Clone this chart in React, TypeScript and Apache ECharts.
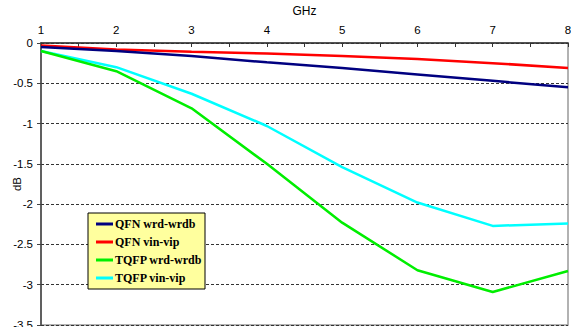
import React, { useEffect, useRef } from "react";
import * as echarts from "echarts";

const freqs = [1, 2, 3, 4, 5, 6, 7, 8];
const qfnWrd = [-0.05, -0.1, -0.16, -0.24, -0.31, -0.39, -0.47, -0.55];
const qfnVin = [-0.03, -0.08, -0.11, -0.13, -0.16, -0.2, -0.25, -0.31];
const tqfpWrd = [-0.1, -0.35, -0.81, -1.5, -2.23, -2.82, -3.09, -2.83];
const tqfpVin = [-0.1, -0.3, -0.63, -1.03, -1.54, -1.98, -2.27, -2.24];
const seriesNames = ["QFN wrd-wrdb", "QFN vin-vip", "TQFP wrd-wrdb", "TQFP vin-vip"];
const seriesColors = ["#000080", "#ff0000", "#00ee00", "#00ffff"];

export default function App() {
  const ref = useRef<HTMLDivElement>(null);
  useEffect(() => {
    if (!ref.current) return;
    const chart = echarts.init(ref.current, null, { renderer: "svg" });
    const all = [qfnWrd, qfnVin, tqfpWrd, tqfpVin];
    chart.setOption({
      animation: false,
      backgroundColor: "#ffffff",
      grid: {
        left: 41,
        right: 3,
        top: 43,
        bottom: 2,
        containLabel: false,
        outerBoundsMode: "none",
        show: true,
        borderColor: "#999999",
        borderWidth: 1.5,
      },
      legend: {
        data: seriesNames,
        orient: "vertical",
        left: 88,
        top: 213,
        padding: [5, 3, 5, 8],
        itemGap: 6,
        itemWidth: 17,
        itemHeight: 3,
        backgroundColor: "#ffff9e",
        borderColor: "#000000",
        borderWidth: 1,
        icon: "rect",
        textStyle: {
          fontFamily: "Liberation Serif",
          fontWeight: "bold",
          fontSize: 12,
          color: "#000000",
          padding: [0, 0, 0, -3],
        },
      },
      xAxis: {
        type: "value",
        position: "top",
        min: 1,
        max: 8,
        interval: 1,
        name: "GHz",
        nameLocation: "middle",
        nameGap: 26,
        nameMoveOverlap: false,
        nameTextStyle: { fontFamily: "Liberation Sans", fontSize: 12, color: "#000" },
        axisLine: { show: true, lineStyle: { color: "#333", width: 1.5 } },
        axisTick: { show: true, inside: true, length: 4, lineStyle: { color: "#333" } },
        minorTick: { show: true, splitNumber: 2, length: 4, lineStyle: { color: "#333" } },
        axisLabel: { fontFamily: "Liberation Sans", fontSize: 11.5, color: "#000", margin: 7 },
        splitLine: { show: false },
      },
      yAxis: {
        type: "value",
        min: -3.5,
        max: 0,
        interval: 0.5,
        name: "dB",
        nameLocation: "middle",
        nameRotate: 90,
        nameGap: 18,
        nameMoveOverlap: false,
        nameTextStyle: { fontFamily: "Liberation Sans", fontSize: 11.5, color: "#000" },
        axisLine: { show: true, onZero: false, lineStyle: { color: "#444", width: 1.5 } },
        axisTick: { show: true, length: 4, lineStyle: { color: "#444" } },
        axisLabel: { fontFamily: "Liberation Sans", fontSize: 11.5, color: "#000", margin: 8 },
        splitLine: { show: true, lineStyle: { color: "#333", type: [3, 2], width: 1 } },
      },
      series: all.map((vals, i) => ({
        name: seriesNames[i],
        type: "line",
        data: freqs.map((f, j) => [f, vals[j]]),
        symbol: "none",
        lineStyle: { color: seriesColors[i], width: 2.5 },
        itemStyle: { color: seriesColors[i] },
        z: 3 - i + 2,
      })),
    });
    return () => chart.dispose();
  }, []);
  return <div ref={ref} style={{ width: 571, height: 327, position: "absolute", left: 0, top: 0 }} />;
}
